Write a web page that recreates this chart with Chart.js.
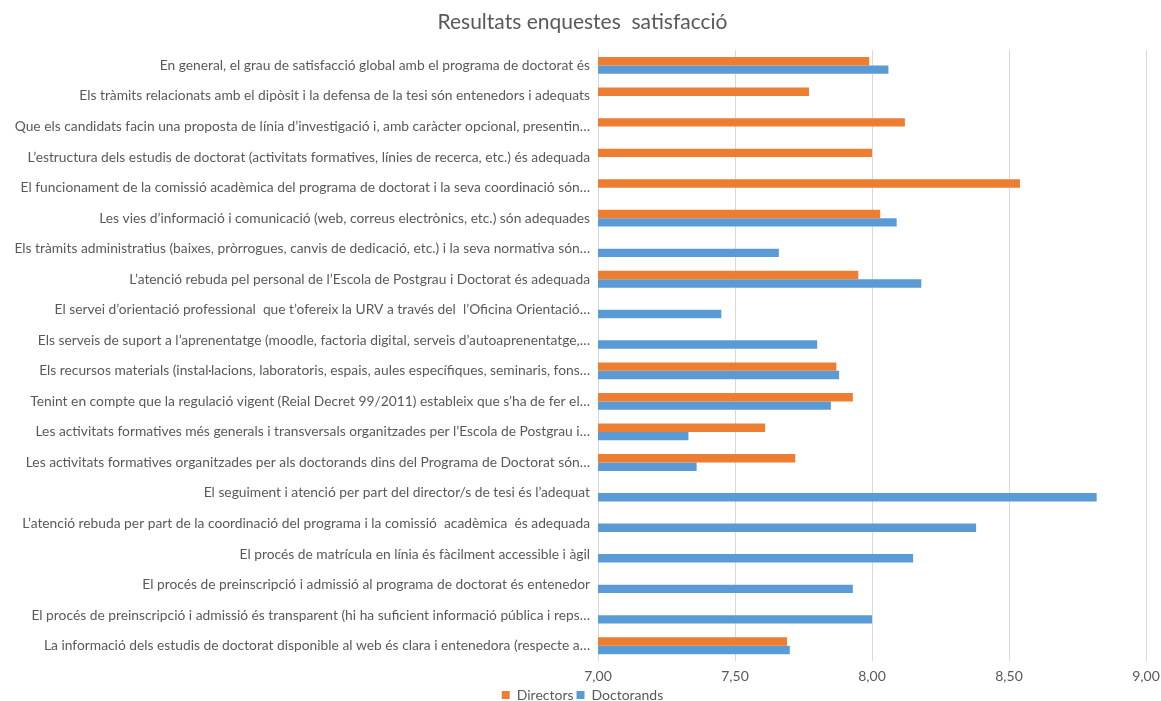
<!DOCTYPE html>
<html>
<head>
<meta charset="utf-8">
<script src="https://cdn.jsdelivr.net/npm/chart.js@4/dist/chart.umd.min.js"></script>
<style>
html,body{margin:0;padding:0;background:#fff;overflow:hidden;width:1161px;height:701px;}
#wrap{width:1161px;height:712px;}
</style>
</head>
<body>
<div id="wrap"><canvas id="c" width="1161" height="712"></canvas></div>
<script>
const titleText = 'Resultats enquestes  satisfacció';
const categories = [
  'En general, el grau de satisfacció global amb el programa de doctorat és',
  'Els tràmits relacionats amb el dipòsit i la defensa de la tesi són entenedors i adequats',
  'Que els candidats facin una proposta de línia d’investigació i, amb caràcter opcional, presentin…',
  'L’estructura dels estudis de doctorat (activitats formatives, línies de recerca, etc.) és adequada',
  'El funcionament de la comissió acadèmica del programa de doctorat i la seva coordinació són…',
  'Les vies d’informació i comunicació (web, correus electrònics, etc.) són adequades',
  'Els tràmits administratius (baixes, pròrrogues, canvis de dedicació, etc.) i la seva normativa són…',
  'L’atenció rebuda pel personal de l’Escola de Postgrau i Doctorat és adequada',
  'El servei d’orientació professional  que t’ofereix la URV a través del  l’Oficina Orientació…',
  'Els serveis de suport a l’aprenentatge (moodle, factoria digital, serveis d’autoaprenentatge,…',
  'Els recursos materials (instal·lacions, laboratoris, espais, aules específiques, seminaris, fons…',
  'Tenint en compte que la regulació vigent (Reial Decret 99/2011) estableix que s’ha de fer el…',
  'Les activitats formatives més generals i transversals organitzades per l’Escola de Postgrau i…',
  'Les activitats formatives organitzades per als doctorands dins del Programa de Doctorat són…',
  'El seguiment i atenció per part del director/s de tesi és l’adequat',
  'L’atenció rebuda per part de la coordinació del programa i la comissió  acadèmica  és adequada',
  'El procés de matrícula en línia és fàcilment accessible i àgil',
  'El procés de preinscripció i admissió al programa de doctorat és entenedor',
  'El procés de preinscripció i admissió és transparent (hi ha suficient informació pública i reps…',
  'La informació dels estudis de doctorat disponible al web és clara i entenedora (respecte a…'
];
const directors = [7.99, 7.77, 8.12, 8.00, 8.54, 8.03, null, 7.95, null, null, 7.87, 7.93, 7.61, 7.72, null, null, null, null, null, 7.69];
const doctorands = [8.06, null, null, null, null, 8.09, 7.66, 8.18, 7.45, 7.80, 7.88, 7.85, 7.33, 7.36, 8.82, 8.38, 8.15, 7.93, 8.00, 7.70];
const seriesNames = ['Directors', 'Doctorands'];
const tickLabels = ['7,00', '7,50', '8,00', '8,50', '9,00'];
const tickValues = [7, 7.5, 8, 8.5, 9];

const FONT = 'Lato, "Liberation Sans", Arial, sans-serif';
const GREY = '#595959';

new Chart(document.getElementById('c'), {
  type: 'bar',
  data: {
    labels: categories,
    datasets: [
      { label: seriesNames[0], data: directors, backgroundColor: '#ED7D31', borderWidth: 0 },
      { label: seriesNames[1], data: doctorands, backgroundColor: '#5B9BD5', borderWidth: 0 }
    ]
  },
  options: {
    indexAxis: 'y',
    responsive: false,
    animation: false,
    layout: { padding: { left: 4, right: 0, top: 0, bottom: 0 } },
    datasets: { bar: { categoryPercentage: 0.55, barPercentage: 1.0 } },
    scales: {
      x: {
        min: 7, max: 9,
        afterBuildTicks: (axis) => { axis.ticks = tickValues.map(v => ({ value: v })); },
        afterFit: (scale) => { scale.paddingRight = 15; scale.height = 24; },
        ticks: {
          color: GREY, font: { family: FONT, size: 14, lineHeight: 1.05 }, padding: 8.5,
          callback: (v) => { const i = tickValues.indexOf(v); return i >= 0 ? tickLabels[i] : ''; }
        },
        grid: { color: '#d9d9d9', lineWidth: 1, drawTicks: false },
        border: { display: false }
      },
      y: {
        afterFit: (scale) => { scale.width = 594; },
        ticks: { color: GREY, font: { family: FONT, size: 13.8 }, padding: 8, autoSkip: false },
        grid: { display: false, drawTicks: false },
        border: { display: false }
      }
    },
    plugins: {
      title: {
        display: true, text: titleText, color: GREY,
        font: { family: FONT, size: 21, weight: 'normal' },
        padding: { top: 10, bottom: 15 }
      },
      legend: {
        position: 'bottom',
        labels: { color: GREY, font: { family: FONT, size: 14 }, boxWidth: 8, boxHeight: 8, padding: 3 }
      },
      tooltip: { enabled: false }
    }
  }
});
</script>
</body>
</html>
